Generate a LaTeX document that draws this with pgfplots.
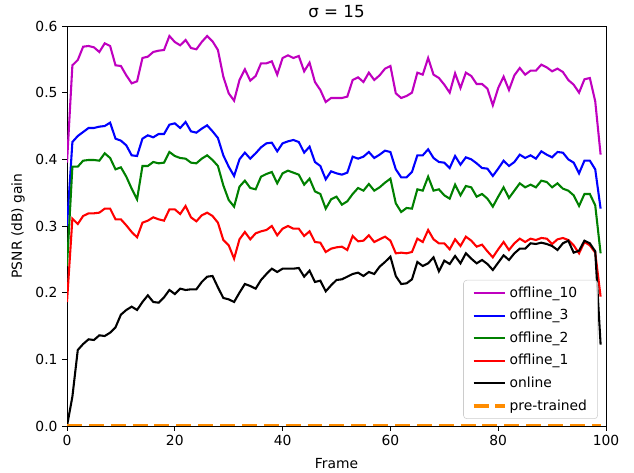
\documentclass[border=0pt]{standalone}
\usepackage{fontspec}
\setmainfont{DejaVu Sans}
\usepackage{pgfplots}
\pgfplotsset{compat=1.18}
\usepackage{pgfplotstable}
\definecolor{mplmag}{rgb}{0.75,0,0.75}
\definecolor{mplgreen}{rgb}{0,0.5,0}
\definecolor{mplorange}{HTML}{FF8C00}

\pgfplotstableread{
f m b g r k
0 0.395 0.300 0.240 0.186 0.000
1 0.541 0.426 0.389 0.311 0.044
2 0.549 0.435 0.389 0.303 0.114
3 0.569 0.441 0.398 0.315 0.123
4 0.570 0.447 0.399 0.319 0.130
5 0.568 0.447 0.399 0.319 0.129
6 0.561 0.449 0.398 0.320 0.136
7 0.574 0.450 0.409 0.326 0.135
8 0.570 0.455 0.402 0.326 0.140
9 0.541 0.431 0.385 0.310 0.148
10 0.540 0.428 0.388 0.310 0.167
11 0.526 0.421 0.374 0.301 0.174
12 0.514 0.406 0.356 0.291 0.179
13 0.517 0.405 0.340 0.283 0.174
14 0.552 0.431 0.390 0.305 0.186
15 0.554 0.436 0.390 0.308 0.196
16 0.561 0.433 0.396 0.313 0.186
17 0.563 0.438 0.394 0.310 0.185
18 0.564 0.438 0.395 0.308 0.193
19 0.585 0.452 0.411 0.325 0.204
20 0.576 0.454 0.405 0.325 0.198
21 0.571 0.447 0.402 0.318 0.206
22 0.579 0.456 0.401 0.330 0.204
23 0.567 0.442 0.395 0.313 0.205
24 0.565 0.440 0.394 0.307 0.205
25 0.576 0.446 0.401 0.316 0.216
26 0.585 0.451 0.406 0.320 0.224
27 0.577 0.442 0.399 0.315 0.225
28 0.564 0.432 0.390 0.305 0.208
29 0.524 0.406 0.361 0.279 0.192
30 0.499 0.389 0.339 0.271 0.190
31 0.488 0.375 0.329 0.251 0.186
32 0.519 0.400 0.359 0.280 0.200
33 0.535 0.410 0.368 0.291 0.213
34 0.518 0.401 0.357 0.280 0.210
35 0.525 0.409 0.355 0.289 0.206
36 0.544 0.418 0.374 0.292 0.219
37 0.544 0.424 0.378 0.294 0.228
38 0.547 0.425 0.381 0.300 0.236
39 0.527 0.412 0.364 0.286 0.231
40 0.552 0.424 0.379 0.296 0.236
41 0.556 0.427 0.383 0.300 0.236
42 0.552 0.429 0.380 0.296 0.236
43 0.555 0.426 0.377 0.296 0.237
44 0.532 0.410 0.362 0.285 0.224
45 0.545 0.419 0.371 0.292 0.233
46 0.516 0.396 0.352 0.276 0.216
47 0.504 0.390 0.348 0.275 0.218
48 0.486 0.370 0.326 0.261 0.202
49 0.492 0.382 0.340 0.266 0.211
50 0.492 0.379 0.344 0.268 0.219
51 0.492 0.377 0.332 0.269 0.220
52 0.494 0.380 0.337 0.264 0.224
53 0.519 0.404 0.348 0.285 0.228
54 0.523 0.401 0.357 0.277 0.230
55 0.516 0.404 0.353 0.278 0.225
56 0.530 0.411 0.363 0.286 0.231
57 0.519 0.402 0.353 0.276 0.228
58 0.526 0.407 0.358 0.280 0.239
59 0.536 0.413 0.365 0.284 0.246
60 0.540 0.411 0.371 0.278 0.254
61 0.499 0.385 0.334 0.259 0.225
62 0.492 0.373 0.321 0.260 0.213
63 0.495 0.373 0.327 0.259 0.214
64 0.500 0.381 0.326 0.261 0.220
65 0.530 0.406 0.355 0.281 0.246
66 0.527 0.406 0.353 0.276 0.240
67 0.552 0.415 0.374 0.294 0.244
68 0.527 0.402 0.353 0.280 0.253
69 0.522 0.396 0.355 0.274 0.232
70 0.512 0.395 0.346 0.274 0.248
71 0.500 0.387 0.341 0.265 0.243
72 0.529 0.405 0.362 0.280 0.255
73 0.507 0.392 0.346 0.270 0.244
74 0.530 0.403 0.360 0.284 0.259
75 0.525 0.400 0.358 0.278 0.251
76 0.513 0.394 0.344 0.269 0.244
77 0.513 0.387 0.348 0.272 0.249
78 0.506 0.386 0.341 0.262 0.243
79 0.481 0.375 0.329 0.253 0.234
80 0.507 0.386 0.344 0.265 0.245
81 0.524 0.398 0.358 0.276 0.256
82 0.504 0.390 0.342 0.264 0.249
83 0.526 0.396 0.353 0.274 0.259
84 0.537 0.407 0.364 0.281 0.266
85 0.527 0.402 0.358 0.276 0.266
86 0.533 0.406 0.362 0.281 0.274
87 0.533 0.401 0.358 0.279 0.273
88 0.542 0.412 0.368 0.282 0.275
89 0.538 0.407 0.366 0.281 0.273
90 0.532 0.403 0.358 0.273 0.270
91 0.536 0.411 0.364 0.280 0.264
92 0.531 0.410 0.356 0.282 0.274
93 0.519 0.400 0.353 0.279 0.278
94 0.512 0.395 0.346 0.271 0.260
95 0.500 0.379 0.330 0.259 0.263
96 0.520 0.398 0.348 0.276 0.278
97 0.522 0.398 0.348 0.271 0.274
98 0.487 0.385 0.331 0.260 0.262
99 0.407 0.326 0.259 0.194 0.122
}\data

\begin{document}
\begin{tikzpicture}
\useasboundingbox (-50.25pt,-35.25pt) rectangle (425.25pt,319.5pt);
\begin{axis}[
  scale only axis, width=404.25pt, height=300pt,
  xmin=0, xmax=100, ymin=0, ymax=0.6,
  xtick={0,20,40,60,80,100}, ytick={0,0.1,0.2,0.3,0.4,0.5,0.6},
  yticklabel style={/pgf/number format/.cd, fixed, fixed zerofill, precision=1},
  /pgf/number format/assume math mode=true,
  tick align=outside, tick pos=left, major tick length=3.6pt,
  tick style={black, line width=0.6pt},
  axis line style={line width=0.6pt},
  font=\fontsize{10.4}{12}\selectfont,
  every axis title shift=0pt,
  title={σ = 15},
  title style={font=\fontsize{12.5}{14}\selectfont, at={(axis description cs:0.5,1.02)}, anchor=base},
  xlabel={Frame},
  xlabel style={at={(axis description cs:0.5,-0.1075)}, anchor=base},
  ylabel={PSNR (dB) gain},
  ylabel style={at={(axis description cs:-0.0909,0.5)}, anchor=center},
  legend style={at={(axis description cs:0.985,0.0175)}, anchor=south east,
    font=\fontsize{10.4}{12}\selectfont, draw=black!20, rounded corners=2.5pt,
    fill=white, fill opacity=0.8, text opacity=1, draw opacity=1,
    inner xsep=6pt, inner ysep=3pt, row sep=3.5pt},
  legend cell align=left,
  legend image code/.code={\draw[#1] (0pt,0pt) -- (23.5pt,0pt);},
  every axis plot/.append style={line width=1.56pt},
]
\addplot[mplmag] table[x=f,y=m] {\data};
\addlegendentry{offline\_10}
\addplot[blue] table[x=f,y=b] {\data};
\addlegendentry{offline\_3}
\addplot[mplgreen] table[x=f,y=g] {\data};
\addlegendentry{offline\_2}
\addplot[red] table[x=f,y=r] {\data};
\addlegendentry{offline\_1}
\addplot[black] table[x=f,y=k] {\data};
\addlegendentry{online}
\addplot[mplorange, line width=3.1pt, dash pattern=on 11.2pt off 5.2pt] coordinates {(0,0) (99,0)};
\addlegendentry{pre-trained}
\end{axis}
\end{tikzpicture}
\end{document}
